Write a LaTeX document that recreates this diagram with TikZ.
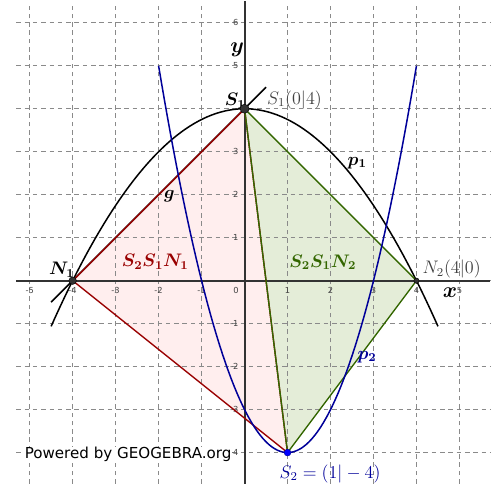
\documentclass[tikz,border=0pt]{standalone}
\usepackage{amsmath}
\usepackage{fontspec}
\usepackage{tikz}
\usetikzlibrary{positioning}
\newfontfamily\ggbfont{DejaVu Sans}
\definecolor{ggbgrid}{HTML}{8A8A8A}
\definecolor{ggbaxis}{HTML}{333333}
\definecolor{ggbtick}{HTML}{444444}
\definecolor{ggbred}{HTML}{990000}
\definecolor{ggbredlight}{HTML}{FFEEEE}
\definecolor{ggbgreen}{HTML}{336600}
\definecolor{ggbgreenlight}{HTML}{E4EDD8}
\definecolor{ggbblue}{HTML}{000099}
\definecolor{ggbtext}{HTML}{404040}
\tikzset{
  gridline/.style={ggbgrid, line width=0.5pt, dash pattern=on 3pt off 2.5pt},
  axisline/.style={ggbaxis, line width=1.3pt},
  ticklabel/.style={font=\ggbfont\fontsize{5.5}{6}\selectfont, text=ggbtick, inner sep=0.5pt},
  ptdot/.style={circle, fill=ggbaxis, draw=black, line width=0.3pt, inner sep=0pt, minimum size=#1},
  boldlabel/.style={font=\large\boldmath, inner sep=0.5pt},
  ptlabel/.style={font=\large, inner sep=0.5pt},
}

\begin{document}
\begin{tikzpicture}
\useasboundingbox (-5.69,-4.72) rectangle (5.92,6.53);
\coordinate (S1) at (0,4);
\coordinate (S2) at (1,-4);
\coordinate (N1) at (-4,0);
\coordinate (N2) at (4,0);
\coordinate (g1) at (-4.5,-0.5);
\coordinate (g2) at (0.5,4.5);

% triangles (fill)
\fill[ggbredlight] (S2) -- (S1) -- (N1) -- cycle;
\fill[ggbgreenlight] (S2) -- (S1) -- (N2) -- cycle;

% grid
\foreach \x in {-5,...,5}
  \draw[gridline] (\x,-4.72) -- (\x,6.38);
\foreach \y in {-4,...,6}
  \draw[gridline] (-5.31,\y) -- (5.72,\y);

% axes
\draw[axisline] (-5.31,0) -- (5.72,0);
\draw[axisline] (0,-4.72) -- (0,6.5);
\foreach \x in {-5,-4,-3,-2,-1,1,2,3,4,5}
  \node[ticklabel] at (\x,-0.22) {\x};
\node[ticklabel] at (-0.2,-0.22) {0};
\foreach \y in {-4,-3,-2,-1,1,2,3,5,6}
  \node[ticklabel, anchor=east] at (-0.12,\y) {\y};
\node[font=\Large\boldmath] (xlab) at (4.78,-0.28) {$x$};
\node[font=\Large\boldmath] (ylab) at (-0.17,5.37) {$y$};

% p1, p2, g
\draw[black, line width=1pt] plot[domain=-4.5:4.5, samples=90] (\x,{4-\x*\x/4});
\draw[black, line width=1pt] (g1) -- (g2);
\draw[ggbred, line width=0.9pt] (N1) -- (S1) -- (S2) -- cycle;
\draw[ggbgreen, line width=0.9pt] (N2) -- (S1) -- (S2) -- cycle;
\draw[ggbblue, line width=1pt] plot[domain=-2:4, samples=90] (\x,{(\x-1)^2-4});

% labels
\node[boldlabel] (p1lab) at (2.62,2.74) {$p_1$};
\node[boldlabel, text=ggbblue] (p2lab) at (2.85,-1.77) {$p_2$};
\node[boldlabel] (glab) at (-1.75,1.96) {$g$};
\node[boldlabel, text=ggbred] (t1lab) at (-2.08,0.44) {$S_2S_1N_1$};
\node[boldlabel, text=ggbgreen] (t2lab) at (1.82,0.43) {$S_2S_1N_2$};
\node[boldlabel, anchor=south east] (S1lab) at (0.05,3.98) {$S_1$};
\node[ptlabel, text=ggbtext, anchor=south west] (S1coord) at (0.5,3.98) {$S_1(0|4)$};
\node[boldlabel, anchor=south east] (N1lab) at (-3.93,0.06) {$N_1$};
\node[ptlabel, text=ggbtext, anchor=south west] (N2coord) at (4.12,0.04) {$N_2(4|0)$};
\node[ptlabel, text=ggbblue] (S2lab) at (1.99,-4.49) {$S_2=(1|-4)$};

% points
\node[ptdot=6pt] at (S1) {};
\node[ptdot=5pt] at (N1) {};
\node[ptdot=3.5pt] at (N2) {};
\node[ptdot=4.5pt, fill=blue, draw=ggbblue] at (S2) {};

\node[fill=white, inner sep=0.5pt, font=\ggbfont\fontsize{10}{12}\selectfont] (ggb) at (-2.71,-4.05) {Powered by GEOGEBRA.org};
\end{tikzpicture}
\end{document}
